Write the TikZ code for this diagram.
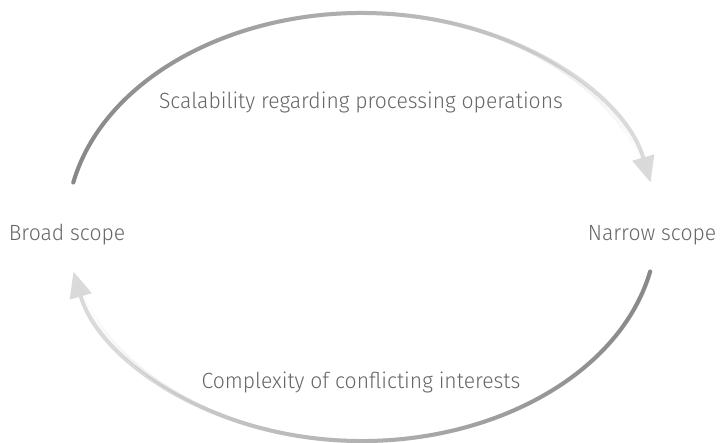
\documentclass[tikz,border=0pt]{standalone}
\usepackage{fontspec}
\setmainfont{Fira Sans}[UprightFont=* Light]
\usetikzlibrary{arrows.meta,fadings}
\definecolor{txtgray}{HTML}{666666}
\definecolor{arcdark}{HTML}{888888}
\definecolor{arclight}{HTML}{DADADA}
\begin{document}
\begin{tikzpicture}[x=1pt,y=1pt,
  lbl/.style={text=txtgray,font=\fontsize{22}{26}\selectfont,inner sep=0pt,xscale=0.96,transform shape},
  arcbase/.style={line width=4pt,line cap=round,draw=arclight,
    -{Triangle[length=26pt,width=22pt]}},
  arcover/.style={line width=4pt,line cap=round,draw=arcdark}]
\useasboundingbox (0,0) rectangle (720,443);
\node[lbl] (broad) at (67,208) {Broad scope};
\node[lbl] (narrow) at (652,208) {Narrow scope};
\node[lbl] (scal) at (361,341) {Scalability regarding processing operations};
\node[lbl] (comp) at (361,61) {Complexity of conflicting interests};
\path (362,216) ++(168:295 and 214) coordinate (ts);
\path (362,216) ++(-12:295 and 214) coordinate (bs);
% top arc
\draw[arcbase] (ts) arc[start angle=168,end angle=12,x radius=295,y radius=214];
\draw[arcover,path fading=east] (ts) arc[start angle=168,end angle=16,x radius=295,y radius=214];
% bottom arc
\draw[arcbase] (bs) arc[start angle=-12,end angle=-168,x radius=295,y radius=214];
\draw[arcover,path fading=west] (bs) arc[start angle=-12,end angle=-164,x radius=295,y radius=214];
\end{tikzpicture}
\end{document}
